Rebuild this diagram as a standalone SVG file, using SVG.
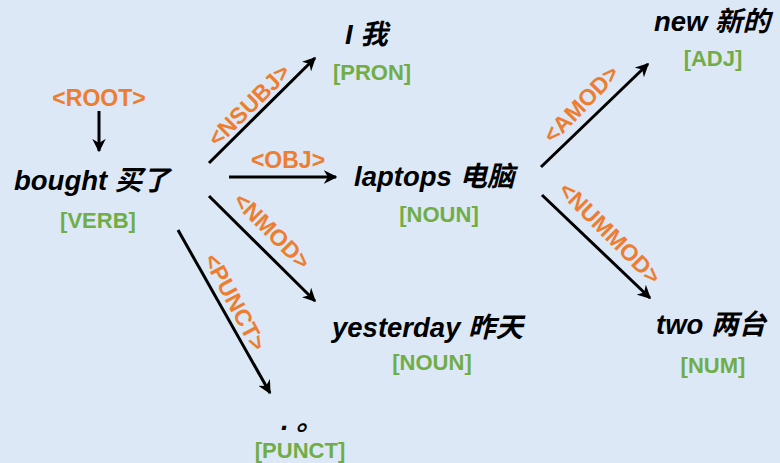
<svg xmlns="http://www.w3.org/2000/svg" width="780" height="463" viewBox="0 0 780 463">
<defs>
<marker id="ah" viewBox="0 0 10 10" refX="9" refY="5" markerWidth="4.5" markerHeight="4.5" orient="auto" markerUnits="strokeWidth">
<path d="M0,0 L10,5 L0,10 L3,5 Z" fill="#000"/>
</marker>
<style>
.w{font-family:"Liberation Sans","Noto Sans CJK SC",sans-serif;font-weight:bold;font-style:italic;font-size:27.5px;fill:#000}
.p{font-family:"Liberation Sans",Arial,sans-serif;font-weight:bold;font-size:22px;fill:#70ad47;text-anchor:middle}
.l{font-family:"Liberation Sans",Arial,sans-serif;font-weight:bold;font-size:23px;fill:#ed7d31;text-anchor:middle}
.e{stroke:#000;stroke-width:3;fill:none;marker-end:url(#ah)}
</style>
</defs>
<rect width="780" height="463" fill="#dce8f5"/>
<g id="edges">
<line class="e" x1="99" y1="111" x2="99" y2="151"/>
<line class="e" x1="209" y1="163" x2="315" y2="58"/>
<line class="e" x1="229" y1="177" x2="336" y2="177"/>
<line class="e" x1="209" y1="196" x2="315" y2="301"/>
<line class="e" x1="178" y1="230" x2="270" y2="393"/>
<line class="e" x1="541" y1="167" x2="648" y2="64"/>
<line class="e" x1="542" y1="195" x2="650" y2="298"/>
<text class="l" x="99" y="106">&lt;ROOT&gt;</text>
<text class="l" transform="translate(249,105) rotate(-45)" y="8">&lt;NSUBJ&gt;</text>
<text class="l" x="288" y="168">&lt;OBJ&gt;</text>
<text class="l" transform="translate(272,231) rotate(45)" y="8">&lt;NMOD&gt;</text>
<text class="l" transform="translate(235,302) rotate(62)" y="8">&lt;PUNCT&gt;</text>
<text class="l" transform="translate(581,104) rotate(-46)" y="8">&lt;AMOD&gt;</text>
<text class="l" transform="translate(610,233) rotate(45)" y="8">&lt;NUMMOD&gt;</text>
</g>
<g id="bought">
<text class="w" x="14" y="190">bought 买了</text>
<text class="p" x="98" y="228">[VERB]</text>
</g>
<g id="I">
<text class="w" x="345" y="44">I 我</text>
<text class="p" x="372" y="80">[PRON]</text>
</g>
<g id="laptops">
<text class="w" x="354" y="186">laptops 电脑</text>
<text class="p" x="439" y="222">[NOUN]</text>
</g>
<g id="yesterday">
<text class="w" x="332" y="337">yesterday 昨天</text>
<text class="p" x="432" y="370">[NOUN]</text>
</g>
<g id="punct">
<text class="w" x="281" y="430">. 。</text>
<text class="p" x="300" y="458">[PUNCT]</text>
</g>
<g id="new">
<text class="w" x="654" y="31">new 新的</text>
<text class="p" x="713" y="66">[ADJ]</text>
</g>
<g id="two">
<text class="w" x="656" y="334">two 两台</text>
<text class="p" x="713" y="373">[NUM]</text>
</g>
</svg>
